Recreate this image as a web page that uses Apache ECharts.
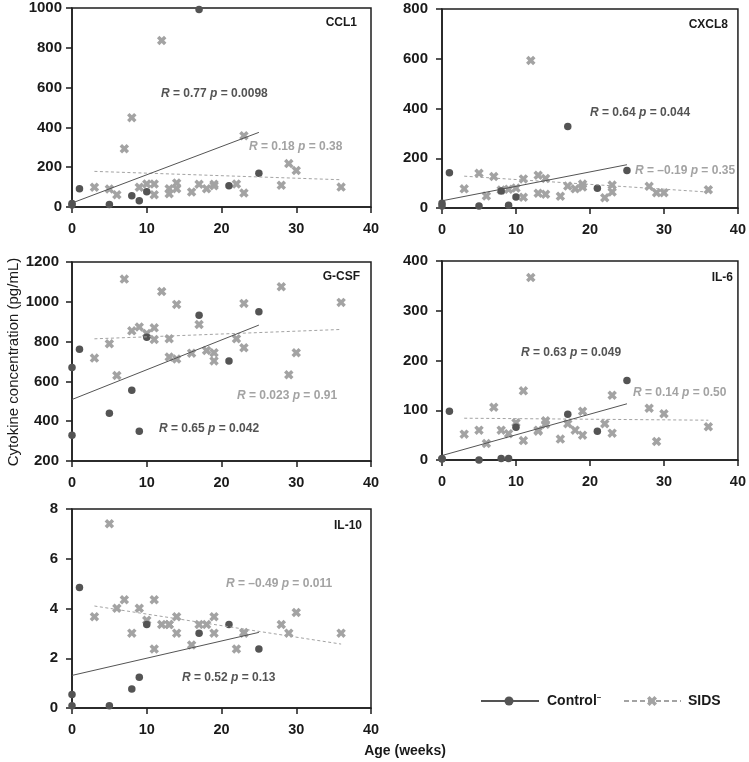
<!DOCTYPE html>
<html>
<head>
<meta charset="utf-8">
<script src="https://cdn.jsdelivr.net/npm/echarts@6/dist/echarts.min.js"></script>
<style>html,body{margin:0;padding:0;background:#fff;}#c{width:749px;height:762px;}</style>
</head>
<body>
<div id="c"></div>
<script>
// ---- data ----
const panelNames = ['CCL1', 'CXCL8', 'G-CSF', 'IL-6', 'IL-10'];
const ctrlAge = [0, 0, 1, 5, 8, 9, 10, 17, 21, 25];
const sidsAge = [3, 5, 6, 7, 8, 9, 10, 11, 11, 12, 13, 13, 14, 14, 16, 17, 18, 19, 19, 22, 23, 23, 28, 29, 30, 36];

const ccl1Ctrl = [17, 10, 92, 12, 57, 32, 77, 992, 107, 169];
const ccl1Sids = [99, 90, 62, 293, 449, 99, 116, 116, 62, 837, 92, 67, 121, 92, 75, 114, 92, 114, 107, 116, 358, 70, 109, 218, 183, 100];
const cxcl8Ctrl = [19, 8, 142, 8, 68, 11, 44, 328, 79, 151];
const cxcl8Sids = [77, 140, 48, 127, 72, 75, 80, 117, 43, 593, 132, 59, 119, 55, 47, 88, 77, 96, 84, 41, 92, 64, 87, 61, 61, 73];
const gcsfCtrl = [670, 329, 762, 440, 556, 349, 822, 933, 702, 950];
const gcsfSids = [717, 789, 630, 1114, 854, 873, 841, 869, 811, 1052, 814, 723, 987, 713, 742, 886, 755, 744, 703, 814, 992, 769, 1076, 633, 744, 997];
const il6Ctrl = [3, 2, 98, 0, 3, 3, 66, 92, 58, 160];
const il6Sids = [52, 60, 33, 106, 60, 53, 75, 139, 39, 367, 60, 58, 79, 72, 42, 73, 60, 98, 50, 73, 130, 54, 104, 37, 93, 67];
const il10Ctrl = [0.09, 0.54, 4.84, 0.09, 0.76, 1.24, 3.36, 3.01, 3.36, 2.37];
const il10Sids = [3.67, 7.41, 4.01, 4.35, 3.01, 4.01, 3.53, 4.35, 2.37, 3.36, 3.36, 3.36, 3.67, 3.01, 2.53, 3.36, 3.36, 3.67, 3.01, 2.37, 3.04, 3.01, 3.36, 3.01, 3.84, 3.01];

// regression line endpoints (age range, fitted values)
const ctrlFitAge = [0, 25];
const sidsFitAge = [3, 36];
const ctrlFit = [[20, 375], [29, 174], [509, 883], [9, 113], [1.31, 3.04]];
const sidsFit = [[179, 137], [128, 64], [814, 861], [84, 80], [4.10, 2.57]];

// statistics text
const ctrlR = ['0.77', '0.64', '0.65', '0.63', '0.52'];
const ctrlP = ['0.0098', '0.044', '0.042', '0.049', '0.13'];
const sidsR = ['0.18', '\u20130.19', '0.023', '0.14', '\u20130.49'];
const sidsP = ['0.38', '0.35', '0.91', '0.50', '0.011'];

// axis scales
const yMin = [0, 0, 200, 0, 0];
const yMax = [1000, 800, 1200, 400, 8];
const yStep = [200, 200, 200, 100, 2];
const xTicks = [0, 10, 20, 30, 40];

// ---- layout ----
const ctrlVals = [ccl1Ctrl, cxcl8Ctrl, gcsfCtrl, il6Ctrl, il10Ctrl];
const sidsVals = [ccl1Sids, cxcl8Sids, gcsfSids, il6Sids, il10Sids];
const gridPos = [
  {left: 72, top: 8}, {left: 442, top: 9},
  {left: 72, top: 262}, {left: 442, top: 261},
  {left: 72, top: 509}
];
const yLabelMargin = [10, 14, 13, 14, 14];
const nameRight = [357, 728, 360, 733, 362];
const nameY = [23, 25, 277, 278, 526];
const ctrlTextPos = [[161, 94], [590, 113], [159, 429], [521, 353], [182, 678]];
const sidsTextPos = [[249, 147], [635, 171], [237, 396], [633, 393], [226, 584]];

const DARK = '#545454';
const LIGHT = '#a3a3a3';
const AXIS = '#1e1e1e';
const FONT = '"Liberation Sans", Arial, Helvetica, sans-serif';
const XPATH = 'path://M0,2.6L2.6,0L5,2.4L7.4,0L10,2.6L7.6,5L10,7.4L7.4,10L5,7.6L2.6,10L0,7.4L2.4,5Z';
const XPOLY = [[0,2.6],[2.6,0],[5,2.4],[7.4,0],[10,2.6],[7.6,5],[10,7.4],[7.4,10],[5,7.6],[2.6,10],[0,7.4],[2.4,5]];

const grid = [], xAxis = [], yAxis = [], series = [], graphic = [];
for (let i = 0; i < 5; i++) {
  grid.push({left: gridPos[i].left, top: gridPos[i].top, width: 299, height: 199,
    show: true, borderColor: AXIS, borderWidth: 1.5, backgroundColor: 'transparent'});
  xAxis.push({gridIndex: i, type: 'value', min: xTicks[0], max: xTicks[xTicks.length - 1], interval: 10,
    axisLine: {show: true, onZero: false, lineStyle: {color: AXIS, width: 1.5}},
    axisTick: {show: true, inside: false, length: 6, lineStyle: {color: AXIS, width: 1.5}},
    axisLabel: {show: true, margin: 14, color: '#1a1a1a', fontSize: 14.5, fontWeight: 'bold', fontFamily: FONT,
      formatter: v => String(v)},
    splitLine: {show: false}});
  yAxis.push({gridIndex: i, type: 'value', min: yMin[i], max: yMax[i], interval: yStep[i],
    axisLine: {show: true, onZero: false, lineStyle: {color: AXIS, width: 1.5}},
    axisTick: {show: true, inside: false, length: 6, lineStyle: {color: AXIS, width: 1.5}},
    axisLabel: {show: true, margin: yLabelMargin[i], color: '#1a1a1a', fontSize: 15, fontWeight: 'bold', fontFamily: FONT,
      formatter: v => String(v)},
    splitLine: {show: false}});
  series.push({type: 'scatter', xAxisIndex: i, yAxisIndex: i, name: 'SIDS',
    data: sidsAge.map((a, k) => [a, sidsVals[i][k]]),
    symbol: XPATH, symbolSize: 9.5, itemStyle: {color: LIGHT, opacity: 1}, z: 3, silent: true});
  series.push({type: 'scatter', xAxisIndex: i, yAxisIndex: i, name: 'Control',
    data: ctrlAge.map((a, k) => [a, ctrlVals[i][k]]),
    symbol: 'circle', symbolSize: 7.5, itemStyle: {color: DARK, opacity: 1}, z: 4, silent: true, clip: false});
  series.push({type: 'line', xAxisIndex: i, yAxisIndex: i,
    data: sidsFitAge.map((a, k) => [a, sidsFit[i][k]]),
    showSymbol: false, symbol: 'none', lineStyle: {color: LIGHT, width: 1, type: [3, 2.5]}, z: 5, silent: true, animation: false});
  series.push({type: 'line', xAxisIndex: i, yAxisIndex: i,
    data: ctrlFitAge.map((a, k) => [a, ctrlFit[i][k]]),
    showSymbol: false, symbol: 'none', lineStyle: {color: DARK, width: 1}, z: 5, silent: true, animation: false});

  graphic.push({type: 'text', x: nameRight[i], y: nameY[i],
    style: {text: panelNames[i], fill: '#1a1a1a', font: 'bold 12px ' + FONT, textAlign: 'right', textVerticalAlign: 'middle'}});
  const mkRich = (col) => ({
    i: {fontStyle: 'italic', fontWeight: 'bold', fontSize: 12, fontFamily: FONT, fill: col},
    n: {fontWeight: 'bold', fontSize: 12, fontFamily: FONT, fill: col}
  });
  graphic.push({type: 'text', x: ctrlTextPos[i][0], y: ctrlTextPos[i][1],
    style: {text: '{i|R}{n| = ' + ctrlR[i] + ' }{i|p}{n| = ' + ctrlP[i] + '}', rich: mkRich(DARK),
      textVerticalAlign: 'middle', textAlign: 'left'}});
  graphic.push({type: 'text', x: sidsTextPos[i][0], y: sidsTextPos[i][1],
    style: {text: '{i|R}{n| = ' + sidsR[i] + ' }{i|p}{n| = ' + sidsP[i] + '}', rich: mkRich(LIGHT),
      textVerticalAlign: 'middle', textAlign: 'left'}});
}

// axis titles
graphic.push({type: 'text', x: 14, y: 362, rotation: Math.PI / 2,
  style: {text: 'Cytokine concentration (pg/mL)', fill: '#1a1a1a', font: '15px ' + FONT, textAlign: 'center', textVerticalAlign: 'middle'}});
graphic.push({type: 'text', x: 405, y: 751,
  style: {text: 'Age (weeks)', fill: '#1a1a1a', font: 'bold 14px ' + FONT, textAlign: 'center', textVerticalAlign: 'middle'}});

// legend
graphic.push({type: 'line', shape: {x1: 481, y1: 701, x2: 539, y2: 701}, style: {stroke: DARK, lineWidth: 2}});
graphic.push({type: 'circle', shape: {cx: 509, cy: 701, r: 4.5}, style: {fill: DARK}});
graphic.push({type: 'text', x: 547, y: 701,
  style: {text: '{a|Control}{b|\u2013}', rich: {
    a: {fontWeight: 'bold', fontSize: 14, fontFamily: FONT, fill: '#1a1a1a'},
    b: {fontWeight: 'bold', fontSize: 8, fontFamily: FONT, fill: '#1a1a1a', padding: [0, 0, 9, 0]}},
    textVerticalAlign: 'middle'}});
graphic.push({type: 'line', shape: {x1: 624, y1: 701, x2: 681, y2: 701}, style: {stroke: LIGHT, lineWidth: 2, lineDash: [5, 3]}});
graphic.push({type: 'polygon', shape: {points: XPOLY.map(p => [647 + p[0], 696 + p[1]])}, style: {fill: LIGHT}});
graphic.push({type: 'text', x: 688, y: 701,
  style: {text: 'SIDS', fill: '#1a1a1a', font: 'bold 14px ' + FONT, textVerticalAlign: 'middle'}});

const chart = echarts.init(document.getElementById('c'), null, {renderer: 'canvas'});
chart.setOption({animation: false, backgroundColor: '#fff', grid, xAxis, yAxis, series, graphic});
</script>
</body>
</html>
